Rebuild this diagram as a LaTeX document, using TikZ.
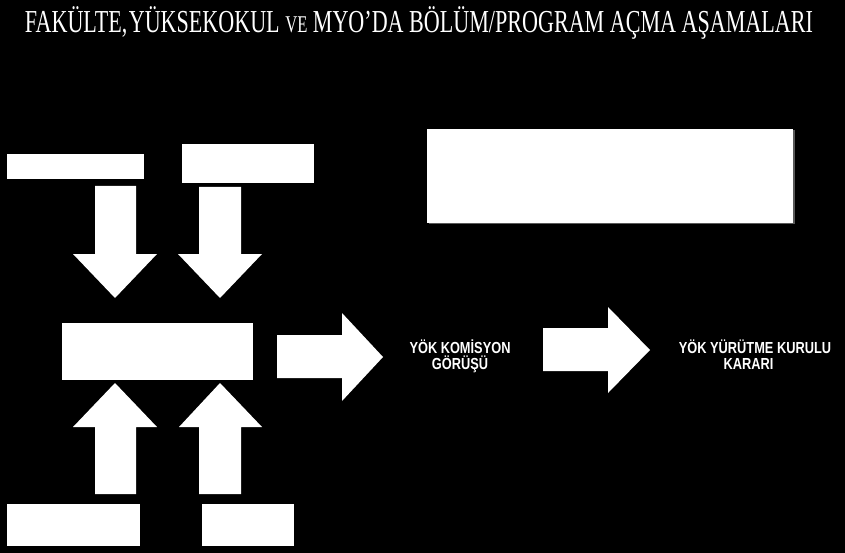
\documentclass[tikz,border=0pt]{standalone}
\usepackage{fontspec}
\usepackage{graphicx}
\usetikzlibrary{shadows}
\setmainfont{Liberation Serif}
\newfontfamily\yokfont[FakeStretch=0.8]{Liberation Sans}
\begin{document}
\begin{tikzpicture}[x=1pt,y=-1pt,
  wbox/.style={fill=white,draw=none,inner sep=0pt,outer sep=0pt},
  blockarrow/.style={fill=white,draw=none},
  yoktext/.style={text=white,inner sep=0pt,anchor=base,font=\yokfont\bfseries\fontsize{16}{17}\selectfont}]
\fill[black] (0,0) rectangle (845,553);
\useasboundingbox (0,0) rectangle (845,553);
% title
\node[text=white,inner sep=0pt,anchor=base] (title) at (419,32.5)
  {\resizebox{788pt}{\height}{\fontsize{32}{34}\selectfont FAKÜLTE,\kern2pt YÜKSEKOKUL {\fontsize{24}{26}\selectfont VE} MYO’DA BÖLÜM/PROGRAM AÇMA AŞAMALARI}};
% boxes
\node[wbox,minimum width=137pt,minimum height=25pt] (boxA) at (75.5,166.5) {};
\node[wbox,minimum width=132pt,minimum height=39pt] (boxB) at (248,163.5) {};
\node[wbox,minimum width=191pt,minimum height=57pt] (mid) at (157.5,351.5) {};
\node[wbox,minimum width=133pt,minimum height=42pt] (bot1) at (73.5,525) {};
\node[wbox,minimum width=92pt,minimum height=42pt] (bot2) at (248,525) {};
\node[wbox,minimum width=366pt,minimum height=94pt,
  drop shadow={shadow xshift=1.5pt,shadow yshift=-1.5pt,fill=gray,opacity=0.7}] (tr) at (610,176) {};
% block arrows
\fill[blockarrow] (95,186) -- (136,186) -- (136,254) -- (157,254) -- (115,298) -- (73,254) -- (95,254) -- cycle;
\fill[blockarrow] (199,187) -- (241,187) -- (241,254) -- (262,254) -- (220,298) -- (178,254) -- (199,254) -- cycle;
\fill[blockarrow] (95,494) -- (136,494) -- (136,427) -- (157,427) -- (115,383) -- (73,427) -- (95,427) -- cycle;
\fill[blockarrow] (199,494) -- (241,494) -- (241,427) -- (262,427) -- (220,383) -- (179,427) -- (199,427) -- cycle;
\fill[blockarrow] (277,335) -- (342,335) -- (342,313) -- (383,357) -- (342,401) -- (342,378) -- (277,378) -- cycle;
\fill[blockarrow] (543,328) -- (608,328) -- (608,307) -- (650,350) -- (608,393) -- (608,371) -- (543,371) -- cycle;
% texts
\node[yoktext] (kom1) at (460,353.5) {YÖK KOMİSYON};
\node[yoktext] (kom2) at (460,369.5) {GÖRÜŞÜ};
\node[yoktext] (yrk1) at (755,353.5) {YÖK YÜRÜTME KURULU};
\node[yoktext] (yrk2) at (748.5,369.5) {KARARI};
\end{tikzpicture}
\end{document}
